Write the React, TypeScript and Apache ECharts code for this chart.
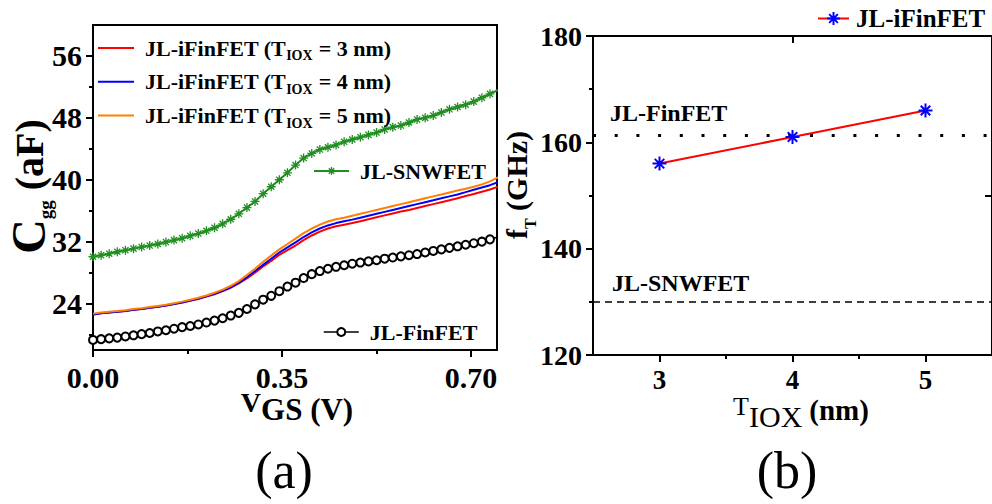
import React, { useEffect, useRef } from 'react';
import * as echarts from 'echarts';

// ---------- Panel (a): Cgg vs VGS ----------
const VGS = [0, 0.015, 0.03, 0.045, 0.06, 0.075, 0.09, 0.105, 0.12, 0.135, 0.15, 0.165, 0.18, 0.195, 0.21, 0.225, 0.24, 0.255, 0.27, 0.285, 0.3, 0.315, 0.33, 0.345, 0.36, 0.375, 0.39, 0.405, 0.42, 0.435, 0.45, 0.465, 0.48, 0.495, 0.51, 0.525, 0.54, 0.555, 0.57, 0.585, 0.6, 0.615, 0.63, 0.645, 0.66, 0.675, 0.69, 0.705, 0.72, 0.735, 0.75];

const CGG_IFIN_3NM = [22.6, 22.75, 22.85, 22.95, 23.05, 23.2, 23.3, 23.45, 23.6, 23.75, 23.95, 24.15, 24.35, 24.6, 24.9, 25.2, 25.6, 26.05, 26.6, 27.25, 28.0, 28.8, 29.5, 30.3, 30.9, 31.5, 32.2, 32.8, 33.3, 33.7, 34.0, 34.2, 34.4, 34.65, 34.9, 35.15, 35.4, 35.65, 35.9, 36.1, 36.35, 36.6, 36.85, 37.1, 37.35, 37.6, 37.9, 38.15, 38.45, 38.75, 39.1];

const CGG_IFIN_4NM = [22.6, 22.75, 22.85, 22.95, 23.05, 23.2, 23.3, 23.45, 23.6, 23.75, 23.95, 24.15, 24.4, 24.65, 24.95, 25.25, 25.65, 26.1, 26.7, 27.4, 28.2, 29.0, 29.8, 30.6, 31.25, 31.9, 32.6, 33.2, 33.7, 34.1, 34.4, 34.65, 34.85, 35.1, 35.35, 35.6, 35.85, 36.1, 36.35, 36.6, 36.85, 37.1, 37.35, 37.6, 37.85, 38.1, 38.4, 38.7, 39.0, 39.3, 39.7];

const CGG_IFIN_5NM = [22.7, 22.85, 22.95, 23.05, 23.15, 23.3, 23.4, 23.55, 23.7, 23.85, 24.05, 24.25, 24.5, 24.75, 25.05, 25.4, 25.8, 26.3, 26.9, 27.7, 28.5, 29.4, 30.2, 31.0, 31.7, 32.4, 33.1, 33.7, 34.2, 34.6, 34.9, 35.1, 35.35, 35.6, 35.85, 36.1, 36.35, 36.6, 36.85, 37.1, 37.35, 37.6, 37.85, 38.1, 38.35, 38.6, 38.85, 39.1, 39.4, 39.8, 40.3];

const CGG_SNWFET = [30.05, 30.25, 30.45, 30.7, 30.9, 31.1, 31.3, 31.5, 31.7, 31.95, 32.2, 32.45, 32.75, 33.05, 33.4, 33.8, 34.3, 34.9, 35.6, 36.4, 37.2, 38.2, 39.1, 40.0, 40.9, 41.9, 42.8, 43.4, 43.9, 44.2, 44.5, 44.9, 45.2, 45.5, 45.8, 46.1, 46.5, 46.8, 47.0, 47.4, 47.8, 48.0, 48.3, 48.7, 49.1, 49.4, 49.7, 50.1, 50.6, 51.1, 51.6];

const CGG_FINFET = [19.3, 19.4, 19.5, 19.6, 19.75, 19.9, 20.05, 20.2, 20.4, 20.55, 20.75, 20.95, 21.1, 21.3, 21.55, 21.8, 22.1, 22.45, 22.8, 23.3, 23.9, 24.5, 25.0, 25.6, 26.2, 26.7, 27.3, 27.8, 28.2, 28.5, 28.75, 28.95, 29.15, 29.3, 29.45, 29.6, 29.8, 29.95, 30.1, 30.25, 30.4, 30.6, 30.8, 31.0, 31.2, 31.4, 31.6, 31.8, 32.0, 32.3, 32.6];

const A_X_TICKS = [0, 0.35, 0.7];
const A_X_MINOR = [0.175, 0.525];
const A_Y_TICKS = [24, 32, 40, 48, 56];
const A_Y_MINOR = [20, 28, 36, 44, 52];

// ---------- Panel (b): fT vs TIOX ----------
const TIOX = [3, 4, 5];
const FT_IFINFET = [156, 161, 166];
const FT_FINFET = 161.3;
const FT_SNWFET = 130;

const B_X_TICKS = [3, 4, 5];
const B_X_MINOR = [3.5, 4.5];
const B_Y_TICKS = [120, 140, 160, 180];
const B_Y_MINOR = [130, 150, 170];

const NAME_3 = 'JL-iFinFET (TIOX = 3 nm)';
const NAME_4 = 'JL-iFinFET (TIOX = 4 nm)';
const NAME_5 = 'JL-iFinFET (TIOX = 5 nm)';
const NAME_SNW = 'JL-SNWFET';
const NAME_FIN = 'JL-FinFET';
const NAME_B = 'JL-iFinFET';

const FONT = '"Liberation Serif", "Times New Roman", Times, serif';
const BLACK = '#000000';
const RED = '#ff0000';
const BLUE = '#0000ff';
const ORANGE = '#ff8000';
const GREEN = '#1f8f1f';
const STAR = 'path://M5 0L5 10M0 5L10 5M1.6 1.6L8.4 8.4M1.6 8.4L8.4 1.6';

function pairs(xs: number[], ys: number[]) {
  return xs.map((x, i) => [x, ys[i]]);
}

const lineAxis = { show: true, onZero: false, lineStyle: { color: BLACK, width: 2 } };
const tickLine = { color: BLACK, width: 2 };

function buildOption() {
  const boldLabel = { fontFamily: FONT, fontWeight: 'bold' as const, color: BLACK };
  const legRich = (size: number, h: number) => ({
    p: { fontSize: size, fontWeight: 'bold', fontFamily: FONT, color: BLACK, height: h, padding: [0, 0, 0, 6] },
    b: { fontSize: size, fontWeight: 'bold', fontFamily: FONT, color: BLACK, height: h },
    s: { fontSize: 14, fontWeight: 'bold', fontFamily: FONT, color: BLACK, height: 18.6, verticalAlign: 'bottom', padding: [0, 6, 0, 0] },
  });

  return {
    animation: false,
    backgroundColor: '#ffffff',
    textStyle: { fontFamily: FONT },
    grid: [
      { left: 93, top: 25, width: 404, height: 325, show: true, borderColor: BLACK, borderWidth: 2, backgroundColor: 'transparent' },
      { left: 593, top: 36, width: 402, height: 319, show: true, borderColor: BLACK, borderWidth: 2, backgroundColor: 'transparent' },
    ],
    xAxis: [
      {
        gridIndex: 0, type: 'value', min: 0, max: 0.748, position: 'bottom',
        axisLine: lineAxis, splitLine: { show: false },
        axisTick: { show: true, customValues: A_X_TICKS, length: 7, lineStyle: tickLine },
        axisLabel: { customValues: A_X_TICKS, formatter: (v: number) => v.toFixed(2), margin: 12, fontSize: 30, ...boldLabel },
      },
      {
        gridIndex: 0, type: 'value', min: 0, max: 0.748, position: 'bottom',
        axisLine: { show: false }, splitLine: { show: false },
        axisTick: { show: true, customValues: A_X_MINOR, length: 4, lineStyle: tickLine },
        axisLabel: { show: false },
      },
      {
        gridIndex: 1, type: 'value', min: 2.5, max: 5.5, position: 'bottom',
        axisLine: lineAxis, splitLine: { show: false },
        axisTick: { show: true, customValues: B_X_TICKS, length: 7, lineStyle: tickLine },
        axisLabel: { customValues: B_X_TICKS, margin: 11, fontSize: 27, ...boldLabel },
      },
      {
        gridIndex: 1, type: 'value', min: 2.5, max: 5.5, position: 'bottom',
        axisLine: { show: false }, splitLine: { show: false },
        axisTick: { show: true, customValues: B_X_MINOR, length: 4, lineStyle: tickLine },
        axisLabel: { show: false },
      },
      {
        gridIndex: 1, type: 'value', min: 2.5, max: 5.5, position: 'top',
        axisLine: { show: false }, splitLine: { show: false },
        axisTick: { show: true, inside: true, customValues: [4], length: 7, lineStyle: tickLine },
        axisLabel: { show: false },
      },
    ],
    yAxis: [
      {
        gridIndex: 0, type: 'value', min: 18, max: 60, position: 'left',
        axisLine: lineAxis, splitLine: { show: false },
        axisTick: { show: true, customValues: A_Y_TICKS, length: 7, lineStyle: tickLine },
        axisLabel: { customValues: A_Y_TICKS, margin: 11, fontSize: 30, ...boldLabel },
      },
      {
        gridIndex: 0, type: 'value', min: 18, max: 60, position: 'left',
        axisLine: { show: false }, splitLine: { show: false },
        axisTick: { show: true, customValues: A_Y_MINOR, length: 4, lineStyle: tickLine },
        axisLabel: { show: false },
      },
      {
        gridIndex: 1, type: 'value', min: 120, max: 180, position: 'left',
        axisLine: lineAxis, splitLine: { show: false },
        axisTick: { show: true, customValues: B_Y_TICKS, length: 7, lineStyle: tickLine },
        axisLabel: { customValues: B_Y_TICKS, margin: 11, fontSize: 28, ...boldLabel },
      },
      {
        gridIndex: 1, type: 'value', min: 120, max: 180, position: 'left',
        axisLine: { show: false }, splitLine: { show: false },
        axisTick: { show: true, customValues: B_Y_MINOR, length: 4, lineStyle: tickLine },
        axisLabel: { show: false },
      },
      {
        gridIndex: 1, type: 'value', min: 120, max: 180, position: 'right',
        axisLine: { show: false }, splitLine: { show: false },
        axisTick: { show: true, inside: true, customValues: [150], length: 7, lineStyle: tickLine },
        axisLabel: { show: false },
      },
    ],
    legend: [
      {
        data: [
          { name: NAME_3, itemStyle: { opacity: 0 }, lineStyle: { color: RED, width: 2 } },
          { name: NAME_4, itemStyle: { opacity: 0 }, lineStyle: { color: BLUE, width: 2 } },
          { name: NAME_5, itemStyle: { opacity: 0 }, lineStyle: { color: ORANGE, width: 2 } },
        ],
        orient: 'vertical', left: 97, top: 37, padding: 0, itemGap: 8,
        itemWidth: 36, itemHeight: 14, selectedMode: false,
        formatter: (name: string) => {
          const m = name.match(/= (\d) nm/);
          return `{p|JL-iFinFET (T}{s|IOX}{b|= ${m ? m[1] : ''} nm)}`;
        },
        textStyle: { fontFamily: FONT, fontSize: 22, fontWeight: 'bold', color: BLACK, rich: legRich(22, 34) },
      },
      {
        data: [{ name: NAME_SNW, itemStyle: { color: GREEN, borderColor: GREEN, borderWidth: 1.3 }, lineStyle: { color: GREEN, width: 2 } }],
        left: 313, top: 160, padding: 0, itemWidth: 35, itemHeight: 10, selectedMode: false,
        formatter: (name: string) => `{p|${name}}`,
        textStyle: { fontFamily: FONT, fontSize: 22, fontWeight: 'bold', color: BLACK, rich: legRich(22, 34) },
      },
      {
        data: [{ name: NAME_FIN, itemStyle: { color: BLACK, borderColor: BLACK, borderWidth: 1.5 }, lineStyle: { color: BLACK, width: 1.5 } }],
        left: 323, top: 321, padding: 0, itemWidth: 35, itemHeight: 10, selectedMode: false,
        formatter: (name: string) => `{p|${name}}`,
        textStyle: { fontFamily: FONT, fontSize: 22, fontWeight: 'bold', color: BLACK, rich: legRich(22, 34) },
      },
      {
        data: [{ name: NAME_B, itemStyle: { color: BLUE, borderColor: BLUE, borderWidth: 2 }, lineStyle: { color: RED, width: 2 } }],
        left: 817, top: 6, padding: 0, itemWidth: 31, itemHeight: 16, selectedMode: false,
        formatter: (name: string) => `{q|${name}}`,
        textStyle: {
          fontFamily: FONT, fontSize: 25, fontWeight: 'bold', color: BLACK,
          rich: { q: { fontSize: 25, fontWeight: 'bold', fontFamily: FONT, color: BLACK, height: 28, padding: [0, 0, 0, 2] } },
        },
      },
    ],
    series: [
      {
        name: NAME_FIN, type: 'line', xAxisIndex: 0, yAxisIndex: 0, data: pairs(VGS, CGG_FINFET),
        symbol: 'emptyCircle', symbolSize: 8, showSymbol: true, clip: true,
        itemStyle: { color: BLACK, borderWidth: 1.5 }, lineStyle: { color: BLACK, width: 1.5 },
        emphasis: { disabled: true },
      },
      {
        name: NAME_3, type: 'line', xAxisIndex: 0, yAxisIndex: 0, data: pairs(VGS, CGG_IFIN_3NM),
        symbol: 'none', clip: true, itemStyle: { color: RED }, lineStyle: { color: RED, width: 2 },
        emphasis: { disabled: true },
      },
      {
        name: NAME_4, type: 'line', xAxisIndex: 0, yAxisIndex: 0, data: pairs(VGS, CGG_IFIN_4NM),
        symbol: 'none', clip: true, itemStyle: { color: BLUE }, lineStyle: { color: BLUE, width: 2 },
        emphasis: { disabled: true },
      },
      {
        name: NAME_5, type: 'line', xAxisIndex: 0, yAxisIndex: 0, data: pairs(VGS, CGG_IFIN_5NM),
        symbol: 'none', clip: true, itemStyle: { color: ORANGE }, lineStyle: { color: ORANGE, width: 2 },
        emphasis: { disabled: true },
      },
      {
        name: NAME_SNW, type: 'line', xAxisIndex: 0, yAxisIndex: 0, data: pairs(VGS, CGG_SNWFET),
        symbol: STAR, symbolSize: 9, showSymbol: true, clip: true,
        itemStyle: { color: GREEN, borderColor: GREEN, borderWidth: 1.3 }, lineStyle: { color: GREEN, width: 2 },
        emphasis: { disabled: true },
      },
      {
        name: NAME_B, type: 'line', xAxisIndex: 2, yAxisIndex: 2, data: pairs(TIOX, FT_IFINFET),
        symbol: STAR, symbolSize: 14, showSymbol: true, z: 5,
        itemStyle: { color: BLUE, borderColor: BLUE, borderWidth: 2 }, lineStyle: { color: RED, width: 2 },
        emphasis: { disabled: true },
        markLine: {
          silent: true, symbol: ['none', 'none'], animation: false,
          data: [
            {
              yAxis: FT_FINFET,
              lineStyle: { type: [3, 18.7], width: 3, color: BLACK },
              label: { show: true, position: 'insideStartTop', formatter: 'JL-FinFET', distance: [17, 10], fontSize: 24, ...boldLabel },
            },
            {
              yAxis: FT_SNWFET,
              lineStyle: { type: [7, 5], width: 1.5, color: BLACK },
              label: { show: true, position: 'insideStartTop', formatter: 'JL-SNWFET', distance: [19, 7], fontSize: 24, ...boldLabel },
            },
          ],
        },
      },
    ],
    graphic: [
      {
        type: 'text', x: 297, y: 387, silent: true,
        style: {
          text: '{v|V}{g|GS (V)}', align: 'center', verticalAlign: 'top',
          rich: {
            v: { fontSize: 28, fontWeight: 'bold', fontFamily: FONT, fill: BLACK, height: 30, verticalAlign: 'top' },
            g: { fontSize: 31, fontWeight: 'bold', fontFamily: FONT, fill: BLACK, height: 44, verticalAlign: 'top' },
          },
        },
      },
      {
        type: 'text', x: 801, y: 391.4, silent: true,
        style: {
          text: '{t|T}{i|IOX}{n|(nm)}', align: 'center', verticalAlign: 'top',
          rich: {
            t: { fontSize: 26, fontWeight: 'normal', fontFamily: FONT, fill: BLACK, height: 30, verticalAlign: 'top' },
            i: { fontSize: 30, fontWeight: 'normal', fontFamily: FONT, fill: BLACK, height: 50.6, verticalAlign: 'top' },
            n: { fontSize: 29, fontWeight: 'bold', fontFamily: FONT, fill: BLACK, height: 37.2, verticalAlign: 'top', padding: [0, 0, 0, 7] },
          },
        },
      },
      {
        type: 'text', x: 13, y: 186.5, rotation: Math.PI / 2, silent: true,
        style: {
          text: '{c|C}{g|gg}{a|(aF)}', align: 'center', verticalAlign: 'top',
          rich: {
            c: { fontSize: 48, fontWeight: 'bold', fontFamily: FONT, fill: BLACK, height: 31.2, verticalAlign: 'top' },
            g: { fontSize: 19, fontWeight: 'bold', fontFamily: FONT, fill: BLACK, height: 64.6, verticalAlign: 'top' },
            a: { fontSize: 40, fontWeight: 'bold', fontFamily: FONT, fill: BLACK, height: 33, verticalAlign: 'top', padding: [0, 0, 0, 10] },
          },
        },
      },
      {
        type: 'text', x: 502, y: 185, rotation: Math.PI / 2, silent: true,
        style: {
          text: '{f|f}{t|T}{a|(GHz)}', align: 'center', verticalAlign: 'top',
          rich: {
            f: { fontSize: 30, fontWeight: 'bold', fontFamily: FONT, fill: BLACK, height: 29.8, verticalAlign: 'top' },
            t: { fontSize: 16, fontWeight: 'bold', fontFamily: FONT, fill: BLACK, height: 56.4, verticalAlign: 'top' },
            a: { fontSize: 30, fontWeight: 'bold', fontFamily: FONT, fill: BLACK, height: 29.8, verticalAlign: 'top', padding: [0, 0, 0, 7.5] },
          },
        },
      },
      {
        type: 'text', x: 284, y: 470, silent: true,
        style: { text: '(a)', fontSize: 52, fontWeight: 'normal', fontFamily: FONT, fill: BLACK, align: 'center', verticalAlign: 'middle' },
      },
      {
        type: 'text', x: 787, y: 470, silent: true,
        style: { text: '(b)', fontSize: 52, fontWeight: 'normal', fontFamily: FONT, fill: BLACK, align: 'center', verticalAlign: 'middle' },
      },
    ],
  };
}

export default function App() {
  const ref = useRef<HTMLDivElement>(null);
  useEffect(() => {
    document.body.style.margin = '0';
    if (!ref.current) return;
    const chart = echarts.init(ref.current, undefined, { renderer: 'svg' });
    chart.setOption(buildOption() as any);
    return () => chart.dispose();
  }, []);
  return <div ref={ref} style={{ width: 992, height: 504, background: '#fff' }} />;
}
